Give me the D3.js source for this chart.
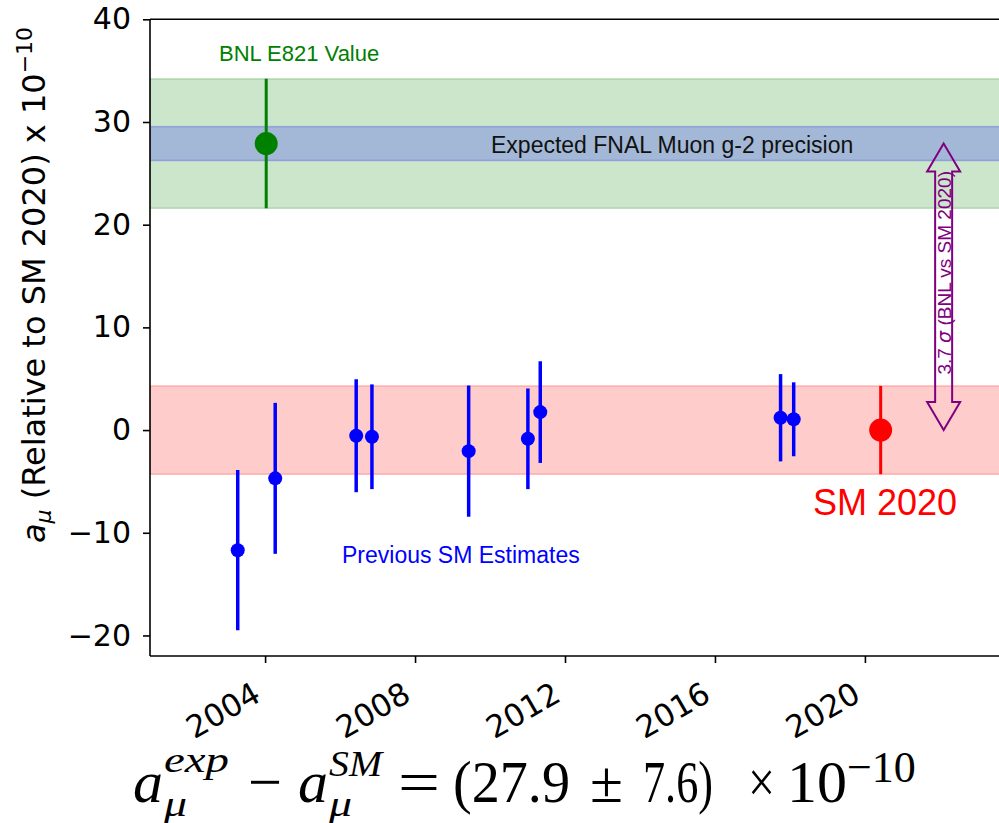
<!DOCTYPE html>
<html><head><meta charset="utf-8">
<script src="https://cdn.jsdelivr.net/npm/d3@7"></script>
<style>body{margin:0;background:#fff}svg{display:block}</style>
</head><body>
<svg id="chart" width="999" height="823"></svg>
<script>
// Previous Standard Model estimates of a_mu, relative to SM 2020 (units of 1e-10)
const smYears  = [2003.27, 2004.27, 2006.43, 2006.85, 2009.43, 2011.01, 2011.34, 2017.75, 2018.10];
const smValues = [-11.7, -4.7, -0.55, -0.65, -2.05, -0.85, 1.75, 1.2, 1.05];
const smErrors = [7.8, 7.35, 5.5, 5.1, 6.4, 4.9, 4.95, 4.25, 3.6];

// SM 2020 reference and the BNL E821 measurement
const sm2020Year = 2020.42, sm2020Value = 0.0, sm2020Error = 4.3;
const bnlYear = 2004.03, bnlValue = 27.9, bnlError = 6.3;
const fnalExpectedError = 1.65;
const tensionYear = 2022.1;

const yTicks = [-20, -10, 0, 10, 20, 30, 40];
const xTicks = [2004, 2008, 2012, 2016, 2020];
const xDomain = [2000.93, 2023.87];
const yDomain = [-22, 40];

const svg = d3.select("#chart");
const W = 999, H = 823;
const plot = {left: 150, right: 1010, top: 19.3, bottom: 656};

const x = d3.scaleLinear().domain(xDomain).range([plot.left, plot.right]);
const y = d3.scaleLinear().domain(yDomain).range([plot.bottom, plot.top]);

svg.append("rect").attr("width", W).attr("height", H).attr("fill", "#fff");

svg.append("defs").append("clipPath").attr("id", "plotclip")
  .append("rect").attr("x", plot.left).attr("y", plot.top - 2)
  .attr("width", plot.right - plot.left).attr("height", plot.bottom - plot.top + 2);

const g = svg.append("g").attr("clip-path", "url(#plotclip)");

// horizontal uncertainty bands
function band(lo, hi, color) {
  g.append("rect")
    .attr("x", plot.left).attr("width", plot.right - plot.left)
    .attr("y", y(hi)).attr("height", y(lo) - y(hi))
    .attr("fill", color).attr("fill-opacity", 0.2)
    .attr("stroke", color).attr("stroke-opacity", 0.22).attr("stroke-width", 1.5);
}
band(bnlValue - bnlError, bnlValue + bnlError, "#008000");
band(bnlValue - fnalExpectedError, bnlValue + fnalExpectedError, "#0000ff");
band(sm2020Value - sm2020Error, sm2020Value + sm2020Error, "#ff0000");

// error bars with markers
function errPoint(xv, yv, ev, color, r, lw) {
  g.append("line")
    .attr("x1", x(xv)).attr("x2", x(xv))
    .attr("y1", y(yv - ev)).attr("y2", y(yv + ev))
    .attr("stroke", color).attr("stroke-width", lw);
  g.append("circle").attr("cx", x(xv)).attr("cy", y(yv)).attr("r", r).attr("fill", color);
}
smYears.forEach((yr, i) => errPoint(yr, smValues[i], smErrors[i], "#0000ff", 7, 3.5));
errPoint(bnlYear, bnlValue, bnlError, "#008000", 11.5, 3);
errPoint(sm2020Year, sm2020Value, sm2020Error, "#ff0000", 11.5, 3);

// double-headed hollow arrow showing the BNL vs SM 2020 tension
(function () {
  const cx = x(tensionYear), yTop = y(bnlValue), yBot = y(sm2020Value);
  const sw = 8.5, hw = 16.5, hl = 28;
  const pts = [
    [cx, yTop], [cx + hw, yTop + hl], [cx + sw, yTop + hl], [cx + sw, yBot - hl],
    [cx + hw, yBot - hl], [cx, yBot], [cx - hw, yBot - hl], [cx - sw, yBot - hl],
    [cx - sw, yTop + hl], [cx - hw, yTop + hl]
  ];
  g.append("path").attr("d", d3.line()(pts) + "Z")
    .attr("fill", "none").attr("stroke", "#800080").attr("stroke-width", 2)
    .attr("stroke-linejoin", "miter");
  const t = g.append("text")
    .attr("transform", `translate(${cx + 7.2},${(yTop + yBot) / 2 - 14}) rotate(-90)`)
    .attr("text-anchor", "middle")
    .attr("font-family", "Liberation Sans, Arial, sans-serif")
    .attr("font-size", 19).attr("fill", "#800080");
  t.append("tspan").text("3.7 ");
  t.append("tspan").attr("font-style", "italic").attr("font-family", "DejaVu Sans").text("σ");
  t.append("tspan").text(" (BNL vs SM 2020)");
})();

// annotations
const sans = "Liberation Sans, Arial, sans-serif";
svg.append("text").attr("x", 219).attr("y", 61).attr("font-family", sans)
  .attr("font-size", 22).attr("fill", "#008000").text("BNL E821 Value");
svg.append("text").attr("x", 491).attr("y", 153).attr("font-family", sans)
  .attr("font-size", 23).attr("fill", "#111").text("Expected FNAL Muon g-2 precision");
svg.append("text").attr("x", 342).attr("y", 563).attr("font-family", sans)
  .attr("font-size", 23).attr("fill", "#0000ff").text("Previous SM Estimates");
svg.append("text").attr("x", 813).attr("y", 515).attr("font-family", sans)
  .attr("font-size", 36).attr("fill", "#ff0000").text("SM 2020");

// axes frame
const ax = svg.append("g").attr("stroke", "#000").attr("stroke-width", 1.6).attr("fill", "none");
ax.append("line").attr("x1", plot.left).attr("x2", plot.left).attr("y1", plot.top).attr("y2", plot.bottom);
ax.append("line").attr("x1", plot.left).attr("x2", plot.right).attr("y1", plot.bottom).attr("y2", plot.bottom);
ax.append("line").attr("x1", plot.left).attr("x2", plot.right).attr("y1", plot.top).attr("y2", plot.top);

const tickFont = "DejaVu Sans, sans-serif";
const yAxis = d3.axisLeft(y).tickValues(yTicks).tickSize(7).tickPadding(12)
  .tickFormat(d => d < 0 ? "\u2212" + Math.abs(d) : String(d));
const yG = svg.append("g").attr("transform", `translate(${plot.left},0)`).call(yAxis);
yG.select(".domain").remove();
yG.selectAll(".tick line").attr("stroke-width", 1.6);
yG.selectAll(".tick text").attr("font-family", tickFont).attr("font-size", 30).attr("fill", "#000");

const xAxis = d3.axisBottom(x).tickValues(xTicks).tickSize(7).tickFormat(d3.format("d"));
const xG = svg.append("g").attr("transform", `translate(0,${plot.bottom})`).call(xAxis);
xG.select(".domain").remove();
xG.selectAll(".tick line").attr("stroke-width", 1.6);
xG.selectAll(".tick text")
  .attr("font-family", tickFont).attr("font-size", 31).attr("fill", "#000")
  .attr("text-anchor", "end").attr("dy", null).attr("y", null)
  .attr("transform", "translate(-3,44) rotate(-30)");

// y-axis label
const yl = svg.append("text")
  .attr("transform", "translate(45,285) rotate(-90)")
  .attr("text-anchor", "middle").attr("font-family", tickFont)
  .attr("font-size", 32).attr("fill", "#000");
yl.append("tspan").attr("font-style", "italic").text("a");
yl.append("tspan").attr("font-style", "italic").attr("font-size", 22).attr("dy", 6).text("μ");
yl.append("tspan").attr("dy", -6).text(" (Relative to SM 2020) x 10");
yl.append("tspan").attr("font-size", 22).attr("dy", -13).text("\u221210");

// difference formula below the chart
const serif = "Liberation Serif, Times New Roman, serif";
const formula = [
  {t: "a", x: 133, y: 802, s: 60, it: true},
  {t: "exp", x: 164, y: 772, w: 65, s: 36, it: true},
  {t: "μ", x: 164, y: 816, w: 23, s: 36, it: true},
  {t: "\u2212", x: 248, y: 802, w: 34, s: 60},
  {t: "a", x: 298, y: 802, s: 60, it: true},
  {t: "SM", x: 329, y: 776, w: 53, s: 36, it: true},
  {t: "μ", x: 329, y: 816, w: 23, s: 36, it: true},
  {t: "=", x: 398, y: 802, w: 42, s: 60},
  {t: "(27.9", x: 453, y: 802, w: 117, s: 60},
  {t: "±", x: 590, y: 802, w: 33, s: 60},
  {t: "7.6)", x: 643, y: 802, w: 70, s: 60},
  {t: "×", x: 748, y: 802, w: 27, s: 60}
];
svg.append("g").selectAll("text").data(formula).join("text")
  .attr("x", d => d.x).attr("y", d => d.y)
  .attr("font-family", serif).attr("font-size", d => d.s)
  .attr("font-style", d => d.it ? "italic" : "normal")
  .attr("textLength", d => d.w || null)
  .attr("lengthAdjust", d => d.w ? "spacingAndGlyphs" : null)
  .attr("fill", "#000").text(d => d.t);
// power of ten with its exponent in one text run
const pw = svg.append("text").attr("x", 787).attr("y", 802)
  .attr("font-family", serif).attr("font-size", 60).attr("fill", "#000");
pw.append("tspan").text("10");
pw.append("tspan").attr("dy", -20).attr("font-size", 44).text("\u221210");
</script>
</body></html>
